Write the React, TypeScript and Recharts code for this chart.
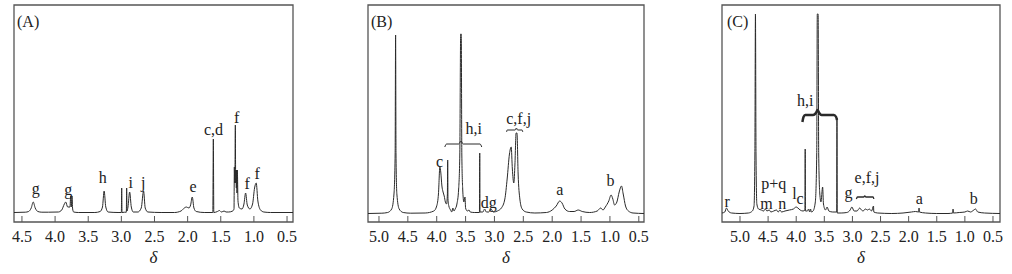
import React from 'react';
import { ComposedChart, Line, Scatter, XAxis, YAxis, ReferenceArea } from 'recharts';

const FONT = '"Liberation Serif", "Times New Roman", serif';
const INK = '#222';
const FRAME = '#555';

// δ (ppm) tick labels
const ticksA = [4.5, 4.0, 3.5, 3.0, 2.5, 2.0, 1.5, 1.0, 0.5];
const ticksBC = [5.0, 4.5, 4.0, 3.5, 3.0, 2.5, 2.0, 1.5, 1.0, 0.5];

// spectra: [δ, intensity above baseline]
const spectrumA: [number, number][] = [
  [4.62, 0.5], [4.45, 0.8], [4.4, 1.5], [4.36, 5], [4.33, 11], [4.3, 5], [4.26, 1.5], [4.2, 0.8],
  [4.1, 0.8], [3.95, 1], [3.9, 3], [3.86, 9], [3.84, 11], [3.81, 6], [3.775, 6], [3.765, 17],
  [3.755, 6], [3.745, 17], [3.735, 4], [3.72, 1], [3.65, 0.5], [3.4, 0.5], [3.32, 1.5],
  [3.285, 6], [3.26, 22], [3.235, 6], [3.2, 1], [3.05, 0.5], [3.0, 0.5], [2.995, 25], [2.99, 0.5],
  [2.95, 0.8], [2.925, 0.8], [2.92, 25], [2.915, 2], [2.9, 6], [2.875, 21], [2.85, 6], [2.82, 1],
  [2.75, 1], [2.7, 5], [2.665, 22], [2.64, 5], [2.6, 1], [2.4, 0.5], [2.2, 0.5], [2.1, 2],
  [2.05, 5], [2.02, 6], [1.98, 5], [1.955, 8], [1.93, 16], [1.905, 5], [1.87, 1.5], [1.75, 0.5],
  [1.62, 0.5], [1.612, 74], [1.605, 0.5], [1.55, 1.5], [1.52, 2.5], [1.49, 1], [1.45, 2],
  [1.42, 1], [1.38, 1], [1.32, 2], [1.3, 4], [1.295, 46], [1.29, 30], [1.285, 46], [1.28, 88],
  [1.275, 30], [1.27, 43], [1.265, 25], [1.26, 43], [1.255, 20], [1.25, 43], [1.24, 12],
  [1.22, 5], [1.18, 4], [1.15, 9], [1.125, 20], [1.1, 8], [1.06, 4], [1.02, 9], [0.99, 25],
  [0.965, 30], [0.94, 12], [0.9, 3], [0.85, 1], [0.75, 0.5], [0.41, 0.5],
];

const spectrumB: [number, number][] = [
  [5.19, 0.5], [4.95, 0.8], [4.85, 1.5], [4.78, 5], [4.74, 20], [4.72, 60], [4.712, 179],
  [4.705, 60], [4.69, 20], [4.65, 5], [4.58, 1.5], [4.45, 0.8], [4.2, 1], [4.05, 3], [4.0, 8],
  [3.97, 20], [3.945, 47], [3.93, 42], [3.91, 28], [3.89, 22], [3.87, 18], [3.85, 12],
  [3.83, 10], [3.815, 20], [3.81, 54], [3.805, 15], [3.79, 8], [3.76, 4], [3.74, 2], [3.72, 6],
  [3.7, 3], [3.68, 5], [3.65, 10], [3.62, 25], [3.6, 60], [3.585, 180], [3.575, 180],
  [3.565, 60], [3.55, 25], [3.53, 12], [3.51, 17], [3.5, 6], [3.47, 3], [3.44, 4], [3.42, 2],
  [3.35, 1.5], [3.26, 1.5], [3.255, 61], [3.25, 2], [3.2, 2], [3.17, 5], [3.14, 2], [3.1, 2],
  [3.06, 5], [3.02, 2], [2.95, 3], [2.88, 6], [2.82, 15], [2.78, 35], [2.74, 60], [2.71, 67],
  [2.69, 45], [2.665, 31], [2.645, 50], [2.625, 81], [2.61, 81], [2.59, 40], [2.56, 15],
  [2.52, 5], [2.45, 2], [2.3, 1], [2.1, 1.5], [2.0, 4], [1.93, 8], [1.87, 13], [1.83, 11],
  [1.78, 5], [1.7, 2.5], [1.62, 2.5], [1.55, 4], [1.48, 2.5], [1.35, 1.5], [1.22, 3], [1.16, 6],
  [1.12, 4], [1.08, 7], [1.02, 13], [0.98, 19], [0.95, 15], [0.92, 9], [0.88, 12], [0.84, 22],
  [0.8, 28], [0.77, 20], [0.73, 8], [0.68, 3], [0.6, 1], [0.41, 0.5],
];

const spectrumC: [number, number][] = [
  [5.32, 1], [5.27, 2], [5.24, 6], [5.21, 3], [5.15, 1], [5.0, 0.5], [4.85, 1], [4.78, 3],
  [4.75, 8], [4.735, 60], [4.725, 200], [4.715, 60], [4.7, 10], [4.67, 5], [4.62, 4], [4.58, 3],
  [4.55, 5], [4.52, 3], [4.48, 4], [4.45, 2], [4.4, 3], [4.35, 4], [4.32, 2], [4.29, 4],
  [4.26, 2], [4.2, 3], [4.12, 4], [4.05, 5], [4.0, 7], [3.97, 6], [3.93, 4], [3.88, 3],
  [3.845, 4], [3.84, 65], [3.835, 3], [3.8, 3], [3.78, 5], [3.76, 2], [3.745, 5], [3.73, 2],
  [3.7, 3], [3.66, 12], [3.635, 60], [3.625, 200], [3.61, 200], [3.6, 60], [3.58, 20],
  [3.56, 12], [3.53, 27], [3.515, 10], [3.48, 4], [3.45, 7], [3.42, 3], [3.35, 2], [3.28, 2],
  [3.275, 96], [3.27, 1], [3.2, 1], [3.1, 1.5], [3.04, 4], [3.01, 7], [2.97, 3], [2.92, 3],
  [2.87, 6], [2.84, 4], [2.81, 3], [2.77, 5], [2.73, 4], [2.7, 5], [2.66, 3], [2.625, 8],
  [2.62, 2], [2.55, 1], [2.3, 0.5], [2.1, 1], [1.95, 2], [1.88, 2.5], [1.82, 2], [1.815, 6],
  [1.81, 2], [1.7, 1], [1.5, 0.5], [1.3, 0.5], [1.215, 1], [1.21, 5], [1.205, 1], [1.1, 1.5],
  [1.0, 2], [0.95, 3], [0.9, 2], [0.84, 4], [0.81, 5], [0.77, 2], [0.65, 1], [0.375, 0.5],
];

// peak assignments: [δ, height, text]
const labelsA: [number, number, string][] = [
  [4.29, 25, 'g'], [3.8, 24, 'g'], [3.28, 36, 'h'], [2.86, 31, 'i'], [2.67, 31, 'j'],
  [1.92, 27, 'e'], [1.61, 84, 'c,d'], [1.26, 96, 'f'], [1.1, 30, 'f'], [0.95, 40, 'f'],
];
const labelsB: [number, number, string][] = [
  [3.95, 53, 'c'], [3.36, 86, 'h,i'], [2.58, 96, 'c,f,j'], [3.1, 12, 'dg'], [1.87, 25, 'a'],
  [0.99, 34, 'b'],
];
const labelsC: [number, number, string][] = [
  [5.23, 13, 'r'], [4.4, 31, 'p+q'], [4.53, 11, 'm'], [4.25, 11, 'n'], [4.03, 21, 'l'],
  [3.93, 16, 'c'], [3.84, 114, 'h,i'], [3.07, 22, 'g'], [2.74, 37, 'e,f,j'], [1.81, 16, 'a'],
  [0.84, 16, 'b'],
];

// braces grouping peaks: [δ, height]
const bracesB: [number, number][][] = [
  [[3.86, 67], [3.83, 70], [3.62, 70], [3.58, 73], [3.54, 70], [3.25, 70], [3.22, 67]],
  [[2.79, 82], [2.78, 84], [2.64, 84], [2.62, 86], [2.6, 84], [2.52, 84], [2.51, 82]],
];
const bracesC: [number, number][][] = [
  [[3.89, 92], [3.87, 97], [3.84, 99], [3.7, 99], [3.65, 101], [3.62, 104], [3.59, 101],
    [3.55, 99], [3.33, 99], [3.29, 97], [3.275, 94]],
  [[2.93, 15], [2.91, 17], [2.8, 17], [2.78, 18], [2.76, 17], [2.63, 17], [2.62, 15]],
];

const toPts = (arr: [number, number][]) => arr.map(([x, y]) => ({ x, y }));

interface PanelProps {
  left: number;
  width: number;
  mLeft: number;
  mRight: number;
  xDomain: [number, number];
  yDomain: [number, number];
  spectrum: [number, number][];
  labels: [number, number, string][];
  braces?: [number, number][][];
  braceWidth?: number[];
  ticks: number[];
  title: string;
  titleX: number;
}

const Panel: React.FC<PanelProps> = (p) => {
  const labelData = p.labels.map(([x, y, t]) => ({ x, y, t }));
  return (
    <div style={{ position: 'absolute', left: p.left, top: 0, width: p.width, height: 274 }}>
      <ComposedChart
        width={p.width}
        height={274}
        margin={{ top: 5, right: p.mRight, left: p.mLeft, bottom: 0 }}
      >
        <XAxis
          dataKey="x"
          type="number"
          domain={[p.xDomain[1], p.xDomain[0]]}
          reversed
          allowDataOverflow
          ticks={p.ticks}
          height={52}
          axisLine={false}
          tickLine={false}
          tick={(t: any) => (
            <g>
              <line x1={t.x} x2={t.x} y1={222} y2={216} stroke={FRAME} strokeWidth={1} />
              <text x={t.x} y={242} textAnchor="middle" fontFamily={FONT} fontSize={16} fill={INK}>
                {Number(t.payload.value).toFixed(1)}
              </text>
            </g>
          )}
          label={{ value: 'δ', position: 'insideBottom', offset: 11, fontFamily: FONT, fontStyle: 'italic', fontSize: 17, fill: INK }}
        />
        <YAxis type="number" domain={p.yDomain} allowDataOverflow hide />
        <ReferenceArea
          x1={p.xDomain[0]}
          x2={p.xDomain[1]}
          y1={p.yDomain[0]}
          y2={p.yDomain[1]}
          fill="none"
          stroke={FRAME}
          strokeWidth={1.3}
          ifOverflow="visible"
        />
        <Line
          data={toPts(p.spectrum)}
          dataKey="y"
          type="monotone"
          stroke="#2a2a2a"
          strokeWidth={1}
          dot={false}
          isAnimationActive={false}
        />
        {(p.braces || []).map((b, i) => (
          <Line
            key={i}
            data={toPts(b)}
            dataKey="y"
            type="monotone"
            stroke="#2a2a2a"
            strokeWidth={p.braceWidth ? p.braceWidth[i] : 1}
            dot={false}
            isAnimationActive={false}
          />
        ))}
        <Scatter
          data={labelData}
          dataKey="y"
          isAnimationActive={false}
          shape={(s: any) => (
            <text
              x={s.cx}
              y={s.cy}
              textAnchor="middle"
              dominantBaseline="central"
              fontFamily={FONT}
              fontSize={16}
              fill={INK}
            >
              {s.payload.t}
            </text>
          )}
        />
      </ComposedChart>
      <div
        style={{
          position: 'absolute',
          left: p.titleX - p.left,
          top: 13,
          fontFamily: FONT,
          fontSize: 16,
          lineHeight: '18px',
          color: INK,
        }}
      >
        {p.title}
      </div>
    </div>
  );
};

export default function App() {
  return (
    <div style={{ position: 'absolute', left: 0, top: 0, width: 1012, height: 274, background: '#fff' }}>
      <Panel
        left={0}
        width={310}
        mLeft={14}
        mRight={17}
        xDomain={[4.62, 0.41]}
        yDomain={[-9, 208]}
        spectrum={spectrumA}
        labels={labelsA}
        ticks={ticksA}
        title="(A)"
        titleX={17}
      />
      <Panel
        left={340}
        width={320}
        mLeft={28}
        mRight={16}
        xDomain={[5.19, 0.41]}
        yDomain={[-8, 209]}
        spectrum={spectrumB}
        labels={labelsB}
        braces={bracesB}
        braceWidth={[1, 1]}
        ticks={ticksBC}
        title="(B)"
        titleX={371}
      />
      <Panel
        left={680}
        width={332}
        mLeft={42}
        mRight={12}
        xDomain={[5.32, 0.375]}
        yDomain={[-8, 209]}
        spectrum={spectrumC}
        labels={labelsC}
        braces={bracesC}
        braceWidth={[2.5, 1.3]}
        ticks={ticksBC}
        title="(C)"
        titleX={727}
      />
    </div>
  );
}
